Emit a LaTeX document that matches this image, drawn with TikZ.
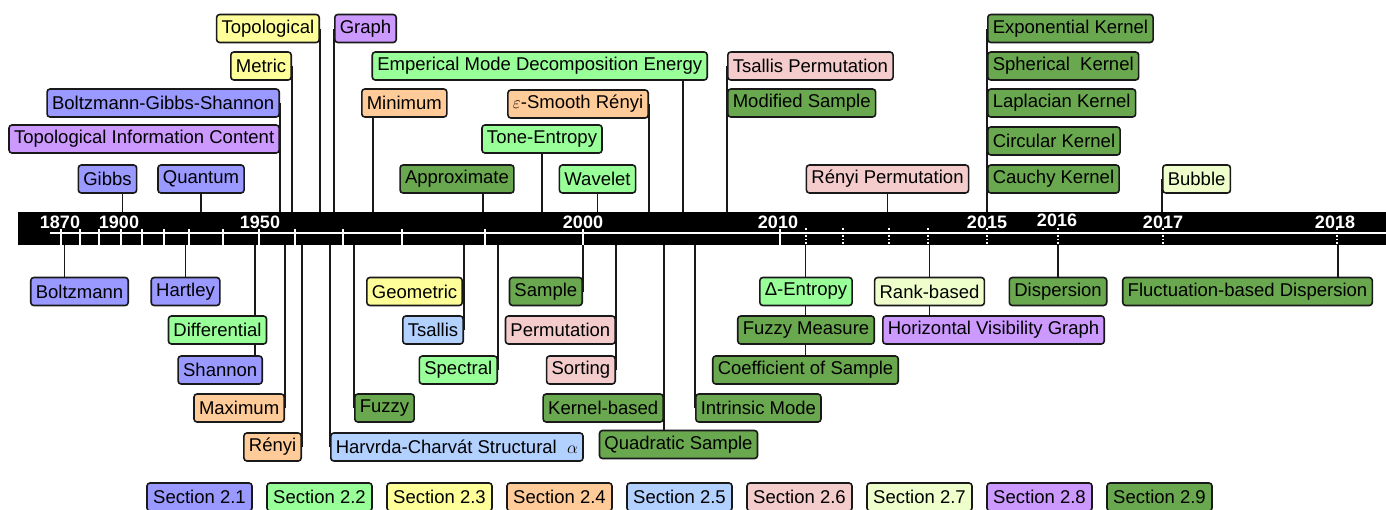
\documentclass[tikz,border=0pt]{standalone}
\usepackage{fontspec}
\setmainfont{Liberation Sans}
\pgfdeclarelayer{background}
\pgfsetlayers{background,main}

\definecolor{cblue}{HTML}{9999FF}
\definecolor{cgreen}{HTML}{99FF99}
\definecolor{cyellow}{HTML}{FFFF99}
\definecolor{corange}{HTML}{FFCC99}
\definecolor{clblue}{HTML}{B3D1FF}
\definecolor{cpink}{HTML}{F4CCCC}
\definecolor{clime}{HTML}{EEFFCC}
\definecolor{cpurple}{HTML}{CC99FF}
\definecolor{cdgreen}{HTML}{6AA84F}

\tikzstyle{meas}=[draw=black!90,line width=1.6pt,rounded corners=3pt,minimum height=28pt,inner xsep=5pt,inner ysep=0pt,font=\fontsize{18.5}{21}\selectfont]
\tikzstyle{conn}=[line width=1.6pt,black!90]
\tikzstyle{year}=[text=white,inner sep=0pt,font=\bfseries\fontsize{18}{20}\selectfont]

\begin{document}
\begin{tikzpicture}[x=1pt,y=-1pt]
	\useasboundingbox (0,0) rectangle (1386,509);
	
	% timeline
	\node[fill=black,minimum width=1368pt,minimum height=33pt,anchor=north west,inner sep=0pt] (bar) at (18,212) {};
	\draw[white,line width=2pt] (50,233) -- (1386,233);
	\foreach \x in {61,80,99,121,142,164,189,223,259,295,343,402,485,583,780}
		\draw[white,line width=1.5pt] (\x,229) -- (\x,245);
	\foreach \x in {806,843,889,928,987,1058,1163,1337}
		\draw[white,line width=1.5pt,dotted] (\x,228) -- (\x,245);
	\foreach \x/\y/\yr in {60/222/1870,119/222/1900,260/222/1950,583/222/2000,778/222/2010,987/222/2015,1057/220/2016,1163/222/2017,1335/222/2018}
		\node[year] at (\x,\y) {\yr};
	
	% above the timeline
	\node[meas,fill=cyellow,anchor=east] (topo) at (320,28.5) {Topological};
	\node[meas,fill=cpurple,anchor=west] (graph) at (334,28.5) {Graph};
	\node[meas,fill=cyellow,anchor=east] (metric) at (292,66) {Metric};
	\node[meas,fill=cblue,anchor=east] (bgs) at (280,103) {Boltzmann-Gibbs-Shannon};
	\node[meas,fill=cpurple,anchor=east] (tic) at (280,139) {Topological Information Content};
	\node[meas,fill=cblue] (gibbs) at (107.5,179) {Gibbs};
	\node[meas,fill=cblue] (quantum) at (201,179) {Quantum};
	\node[meas,fill=corange,anchor=west] (minimum) at (361,103) {Minimum};
	\node[meas,fill=cgreen,anchor=east] (emd) at (708,66) {Emperical Mode Decomposition Energy};
	\node[meas,fill=corange,anchor=east] (esr) at (649,104) {$\varepsilon$-Smooth Rényi};
	\node[meas,fill=cgreen] (tone) at (542,139) {Tone-Entropy};
	\node[meas,fill=cdgreen] (approx) at (457,179) {Approximate};
	\node[meas,fill=cgreen] (wavelet) at (597.5,179) {Wavelet};
	\node[meas,fill=cpink,anchor=west] (tsperm) at (727,66) {Tsallis Permutation};
	\node[meas,fill=cdgreen,anchor=west] (modsamp) at (727,103) {Modified Sample};
	\node[meas,fill=cpink] (renyiperm) at (887.5,179) {Rényi Permutation};
	\node[meas,fill=cdgreen,anchor=west] (expk) at (987,28.5) {Exponential Kernel};
	\node[meas,fill=cdgreen,anchor=west] (sphk) at (987,66) {Spherical\ \ Kernel};
	\node[meas,fill=cdgreen,anchor=west] (lapk) at (987,103) {Laplacian Kernel};
	\node[meas,fill=cdgreen,anchor=west] (circk) at (987,141) {Circular Kernel};
	\node[meas,fill=cdgreen,anchor=west] (cauk) at (987,179) {Cauchy Kernel};
	\node[meas,fill=clime,anchor=west] (bubble) at (1162,179) {Bubble};
	
	% below the timeline
	\node[meas,fill=cblue] (boltz) at (79.5,291.5) {Boltzmann};
	\node[meas,fill=cblue] (hartley) at (185.5,291.5) {Hartley};
	\node[meas,fill=cgreen] (diff) at (217.5,330) {Differential};
	\node[meas,fill=cblue,anchor=east] (shannon) at (263,370) {Shannon};
	\node[meas,fill=corange,anchor=east] (maximum) at (285,408) {Maximum};
	\node[meas,fill=corange,anchor=east] (renyi) at (302,447) {Rényi};
	\node[meas,fill=clblue,anchor=west] (harv) at (330,447) {Harvrda-Charvát Structural\ \ $\alpha$};
	\node[meas,fill=cdgreen,anchor=west] (fuzzy) at (354,408) {Fuzzy};
	\node[meas,fill=cyellow,anchor=east] (geo) at (463,291.5) {Geometric};
	\node[meas,fill=clblue,anchor=east] (tsallis) at (464,330) {Tsallis};
	\node[meas,fill=cgreen,anchor=east] (spectral) at (498,370) {Spectral};
	\node[meas,fill=cdgreen,anchor=east] (sample) at (583,291.5) {Sample};
	\node[meas,fill=cpink,anchor=east] (perm) at (616,330) {Permutation};
	\node[meas,fill=cpink,anchor=east] (sorting) at (616,370) {Sorting};
	\node[meas,fill=cdgreen,anchor=east] (kernel) at (664,408) {Kernel-based};
	\node[meas,fill=cdgreen] (quad) at (678.5,444.5) {Quadratic Sample};
	\node[meas,fill=cdgreen,anchor=west] (intrinsic) at (695,408) {Intrinsic Mode};
	\node[meas,fill=cgreen] (dentropy) at (806,291.5) {Δ-Entropy};
	\node[meas,fill=cdgreen] (fuzzym) at (806,330) {Fuzzy Measure};
	\node[meas,fill=cdgreen] (coeff) at (805.5,370) {Coefficient of Sample};
	\node[meas,fill=clime] (rank) at (929.5,291.5) {Rank-based};
	\node[meas,fill=cpurple,anchor=west] (hvg) at (882,330) {Horizontal Visibility Graph};
	\node[meas,fill=cdgreen] (disp) at (1058,291.5) {Dispersion};
	\node[meas,fill=cdgreen] (fluct) at (1247.5,291.5) {Fluctuation-based Dispersion};
	
	% legend
	\foreach \c [count=\i] in {cblue,cgreen,cyellow,corange,clblue,cpink,clime,cpurple,cdgreen}
		\node[meas,fill=\c,minimum width=105pt] (leg\i) at (79.5+120*\i,497) {Section 2.\i};
	
	\begin{pgfonlayer}{background}
		\draw[conn] (topo.east) -- (topo.east |- bar.north);
		\draw[conn] (graph.west) -- (graph.west |- bar.north);
		\draw[conn] (metric.east) -- (metric.east |- bar.north);
		\draw[conn] (bgs.east) -- (bgs.east |- bar.north);
		\draw[conn] ([xshift=15pt]gibbs.south) -- ([xshift=15pt]gibbs.south |- bar.north);
		\draw[conn] (quantum.south) -- (quantum.south |- bar.north);
		\draw[conn] ([xshift=12pt]minimum.south west) -- ([xshift=12pt]minimum.south west |- bar.north);
		\draw[conn] ([xshift=-25pt]emd.south east) -- ([xshift=-25pt]emd.south east |- bar.north);
		\draw[conn] (esr.east) -- (esr.east |- bar.north);
		\draw[conn] (tone.south) -- (tone.south |- bar.north);
		\draw[conn] ([xshift=-32pt]approx.south east) -- ([xshift=-32pt]approx.south east |- bar.north);
		\draw[conn] (wavelet.south) -- (wavelet.south |- bar.north);
		\draw[conn] (tsperm.west) -- (tsperm.west |- bar.north);
		\draw[conn] (renyiperm.south) -- (renyiperm.south |- bar.north);
		\draw[conn] (expk.west) -- (expk.west |- bar.north);
		\draw[conn] (bubble.west) -- (bubble.west |- bar.north);
		
		\draw[conn] ([xshift=-15pt]boltz.north) -- ([xshift=-15pt]boltz.north |- bar.south);
		\draw[conn] (hartley.north) -- (hartley.north |- bar.south);
		\draw[conn] ([xshift=-8pt]shannon.north east) -- ([xshift=-8pt]shannon.north east |- bar.south);
		\draw[conn] (maximum.east) -- (maximum.east |- bar.south);
		\draw[conn] (renyi.east) -- (renyi.east |- bar.south);
		\draw[conn] (harv.west) -- (harv.west |- bar.south);
		\draw[conn] (fuzzy.west) -- (fuzzy.west |- bar.south);
		\draw[conn] (tsallis.east) -- (tsallis.east |- bar.south);
		\draw[conn] (spectral.east) -- (spectral.east |- bar.south);
		\draw[conn] (sample.east) -- (sample.east |- bar.south);
		\draw[conn] (sorting.east) -- (sorting.east |- bar.south);
		\draw[conn] (kernel.east |- quad.north) -- (kernel.east |- bar.south);
		\draw[conn] (intrinsic.west) -- (intrinsic.west |- bar.south);
		\draw[conn] (coeff.north) -- (coeff.north |- bar.south);
		\draw[conn] (rank.north |- hvg.north) -- (rank.north |- bar.south);
		\draw[conn] (disp.north) -- (disp.north |- bar.south);
		\draw[conn] ([xshift=-35pt]fluct.north east) -- ([xshift=-35pt]fluct.north east |- bar.south);
	\end{pgfonlayer}
\end{tikzpicture}
\end{document}
